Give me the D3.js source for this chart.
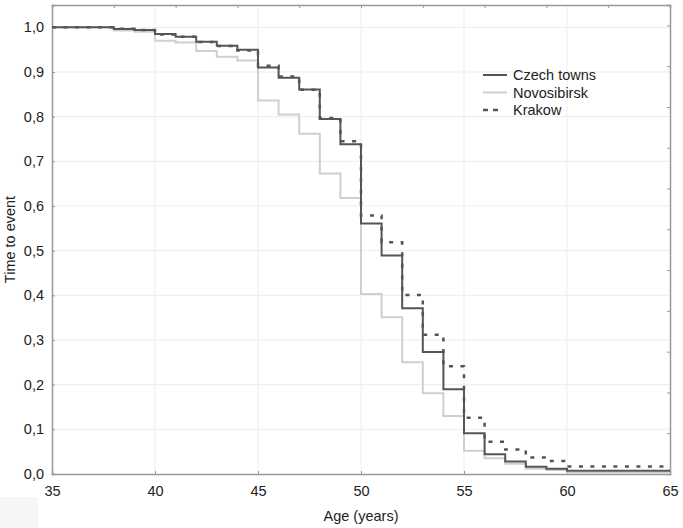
<!DOCTYPE html>
<html>
<head>
<meta charset="utf-8">
<script src="https://cdn.jsdelivr.net/npm/d3@7"></script>
<style>
    body { margin: 0; background: #fff; }
    text { font-family: "Liberation Sans", Arial, sans-serif; fill: #222; }
</style>
</head>
<body>
<div id="chart"></div>
<script>
// Step start ages, the last value is carried to 65
var ages = [35, 36, 37, 38, 39, 40, 41, 42, 43, 44, 45, 46, 47, 48, 49, 50,
            51, 52, 53, 54, 55, 56, 57, 58, 59, 60, 61, 62, 63, 64, 65];

var czechTowns = [1.0, 1.0, 1.0, 0.996, 0.994, 0.985, 0.979, 0.968, 0.959, 0.950, 0.910,
                  0.887, 0.861, 0.795, 0.738, 0.561, 0.489, 0.371, 0.273, 0.190, 0.091,
                  0.044, 0.028, 0.016, 0.012, 0.007, 0.007, 0.007, 0.007, 0.007, 0.007];

var novosibirsk = [1.0, 1.0, 1.0, 0.993, 0.990, 0.970, 0.966, 0.947, 0.934, 0.926, 0.836,
                   0.805, 0.762, 0.673, 0.618, 0.403, 0.351, 0.250, 0.181, 0.130, 0.052,
                   0.035, 0.023, 0.012, 0.009, 0.003, 0.003, 0.003, 0.003, 0.003, 0.003];

var krakow = [1.0, 1.0, 1.0, 0.997, 0.994, 0.984, 0.979, 0.967, 0.958, 0.948, 0.914,
              0.890, 0.860, 0.797, 0.745, 0.579, 0.519, 0.401, 0.312, 0.241, 0.126,
              0.072, 0.055, 0.037, 0.029, 0.017, 0.017, 0.017, 0.017, 0.017, 0.017];

var xTicks = [35, 40, 45, 50, 55, 60, 65];
var yTicks = [0, 0.1, 0.2, 0.3, 0.4, 0.5, 0.6, 0.7, 0.8, 0.9, 1.0];

var series = [
    {name: 'Czech towns', values: czechTowns, color: '#555', width: 2, dash: null},
    {name: 'Novosibirsk', values: novosibirsk, color: '#cfcfcf', width: 2, dash: null},
    {name: 'Krakow', values: krakow, color: '#555', width: 2.5, dash: '4,7.5'}
];

var width = 683, height = 528;
var margin = {top: 5, right: 13, bottom: 54, left: 52};
var plotW = width - margin.left - margin.right;
var plotH = height - margin.top - margin.bottom;
var fontSize = '14.5px';

var svg = d3.select('#chart').append('svg')
    .attr('width', width)
    .attr('height', height);

// faint patch in the lower left corner of the original
svg.append('rect')
    .attr('x', 0).attr('y', 497)
    .attr('width', 38).attr('height', 31)
    .style('fill', '#f6f6f6');

var g = svg.append('g')
    .attr('transform', 'translate(' + margin.left + ',' + margin.top + ')');

var x = d3.scaleLinear().domain([35, 65]).range([0, plotW]);
var y = d3.scaleLinear().domain([0, 1.05]).range([plotH, 0]);

// secondary scales only used for the inner ticks on top and right
var xTop = d3.scaleLinear().domain([0, 10]).range([0, plotW]);
var yRight = d3.scaleLinear().domain([0, 11.5]).range([plotH, 0]);

var fmt = function(d) { return d3.format('.1f')(d).replace('.', ','); };

// grid
g.append('g').selectAll('line')
    .data(xTicks.slice(1, -1))
    .enter().append('line')
    .attr('x1', function(d) { return x(d); })
    .attr('x2', function(d) { return x(d); })
    .attr('y1', 0).attr('y2', plotH)
    .style('stroke', '#ededed');

g.append('g').selectAll('line')
    .data(yTicks.slice(1))
    .enter().append('line')
    .attr('x1', 0).attr('x2', plotW)
    .attr('y1', function(d) { return y(d); })
    .attr('y2', function(d) { return y(d); })
    .style('stroke', '#ededed');

// axes with inner ticks
var xAxis = d3.axisBottom(x).tickValues(xTicks).tickSize(-3).tickPadding(12).tickFormat(d3.format('d'));
var yAxis = d3.axisLeft(y).tickValues(yTicks).tickSize(-3).tickPadding(8).tickFormat(fmt);
var topAxis = d3.axisTop(xTop).ticks(10).tickSize(-3).tickFormat('');
var rightAxis = d3.axisRight(yRight).tickValues(d3.range(1, 12)).tickSize(-3).tickFormat('');

function styleAxis(sel) {
    sel.select('.domain').style('stroke', '#999').style('stroke-width', 1.5);
    sel.selectAll('.tick line').style('stroke', '#999');
    sel.selectAll('.tick text')
        .style('font-family', '"Liberation Sans", Arial, sans-serif')
        .style('font-size', fontSize)
        .style('fill', '#222');
}

g.append('g').attr('transform', 'translate(0,' + plotH + ')').call(xAxis).call(styleAxis);
g.append('g').call(yAxis).call(styleAxis);
g.append('g').call(topAxis).call(styleAxis);
g.append('g').attr('transform', 'translate(' + plotW + ',0)').call(rightAxis).call(styleAxis);

// survival step curves
var line = d3.line()
    .x(function(d, i) { return x(ages[i]); })
    .y(function(d) { return y(d); })
    .curve(d3.curveStepAfter);

// draw Novosibirsk first so the darker lines sit on top
[series[1], series[0], series[2]].forEach(function(s) {
    g.append('path')
        .attr('d', line(s.values))
        .style('fill', 'none')
        .style('stroke', s.color)
        .style('stroke-width', s.width)
        .style('stroke-dasharray', s.dash);
});

// legend
var legend = svg.append('g').attr('transform', 'translate(483,75)');
series.forEach(function(s, i) {
    var row = legend.append('g').attr('transform', 'translate(0,' + (i * 17.5) + ')');
    row.append('line')
        .attr('x1', 0).attr('x2', s.dash ? 15 : 24)
        .style('stroke', s.color)
        .style('stroke-width', s.width)
        .style('stroke-dasharray', s.dash ? '5,5' : null);
    row.append('text')
        .attr('x', 30).attr('y', 5)
        .style('font-size', fontSize)
        .text(s.name);
});

// axis titles
svg.append('text')
    .attr('x', margin.left + plotW / 2)
    .attr('y', 521)
    .attr('text-anchor', 'middle')
    .style('font-size', fontSize)
    .text('Age (years)');

svg.append('text')
    .attr('transform', 'translate(15,' + (margin.top + plotH / 2) + ') rotate(-90)')
    .attr('text-anchor', 'middle')
    .style('font-size', fontSize)
    .text('Time to event');
</script>
</body>
</html>
